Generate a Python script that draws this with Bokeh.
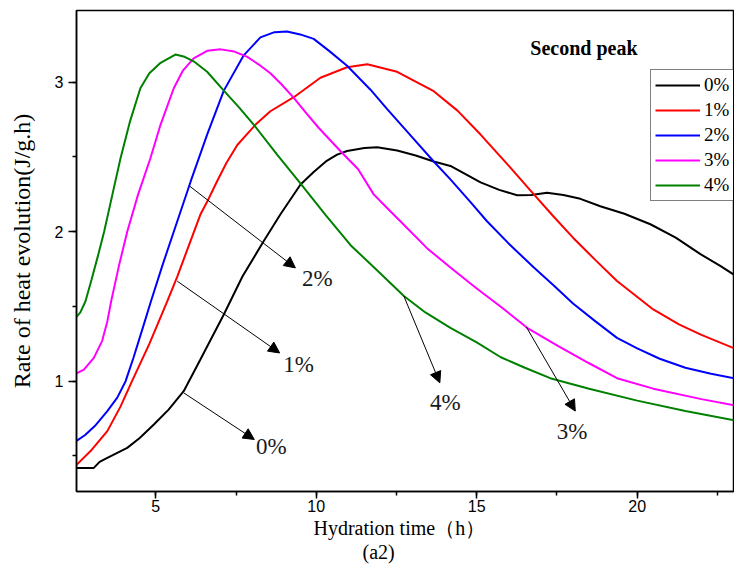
from bokeh.plotting import figure
from bokeh.models import (Range1d, SingleIntervalTicker, Arrow, NormalHead, Label, Title,
                          Legend, LegendItem, ColumnDataSource)
from bokeh.core.properties import value
from bokeh.embed import file_html
from bokeh.resources import INLINE

# ---------------- data ----------------
series_names = ["0%", "1%", "2%", "3%", "4%"]
series_colors = ["#000000", "#ff0000", "#0000ff", "#ff00ff", "#008000"]

x0 = [2.53, 3.07, 3.25, 3.49, 4.11, 4.5, 4.94, 5.4, 5.87, 6.39, 7.12, 7.7, 8.36, 8.88, 9.51,
      9.92, 10.3, 10.65, 10.96, 11.5, 11.9, 12.52, 13.1, 13.66, 14.18, 15.12, 15.7, 16.26,
      16.7, 17.19, 17.7, 18.23, 18.85, 19.6, 20.41, 21.2, 21.97, 22.6, 23.25]
y0 = [0.42, 0.42, 0.46, 0.487, 0.554, 0.62, 0.71, 0.81, 0.933, 1.145, 1.446, 1.70, 1.936,
      2.115, 2.316, 2.40, 2.47, 2.516, 2.54, 2.56, 2.565, 2.543, 2.51, 2.47, 2.44, 2.33,
      2.28, 2.244, 2.245, 2.26, 2.245, 2.22, 2.17, 2.12, 2.05, 1.96, 1.85, 1.77, 1.68]

x1 = [2.53, 3.0, 3.49, 3.9, 4.26, 4.8, 5.36, 5.67, 6.0, 6.39, 6.6, 6.91, 7.2, 7.54, 8.11,
      8.57, 9.3, 10.13, 10.96, 11.59, 12.52, 13.66, 14.4, 15.12, 16.0, 16.78, 17.4, 18.0,
      18.7, 19.37, 20.5, 21.3, 22.0, 23.25]
y1 = [0.44, 0.54, 0.666, 0.83, 1.0, 1.25, 1.535, 1.70, 1.89, 2.115, 2.2, 2.338, 2.46, 2.58,
      2.717, 2.806, 2.9, 3.03, 3.10, 3.12, 3.07, 2.94, 2.81, 2.65, 2.44, 2.25, 2.10, 1.96,
      1.81, 1.67, 1.48, 1.38, 1.31, 1.20]

x2 = [2.53, 2.8, 3.1, 3.49, 3.8, 4.06, 4.31, 4.6, 4.85, 5.2, 5.56, 6.09, 6.6, 7.12, 7.74,
      8.26, 8.7, 9.09, 9.5, 9.92, 10.4, 10.96, 11.69, 12.21, 13.0, 13.66, 14.18, 14.8,
      15.32, 16.0, 16.78, 17.4, 18.0, 18.7, 19.37, 20.0, 20.7, 21.5, 22.3, 23.25]
y2 = [0.6, 0.64, 0.70, 0.8, 0.89, 1.0, 1.16, 1.36, 1.535, 1.77, 2.0, 2.338, 2.65, 2.944,
      3.18, 3.30, 3.335, 3.34, 3.32, 3.29, 3.21, 3.11, 2.95, 2.82, 2.63, 2.47, 2.35, 2.20,
      2.07, 1.92, 1.76, 1.64, 1.52, 1.40, 1.29, 1.22, 1.15, 1.09, 1.05, 1.01]

x3 = [2.53, 2.76, 3.07, 3.33, 3.49, 3.61, 3.85, 4.11, 4.45, 4.83, 5.15, 5.56, 5.85, 6.18,
      6.6, 7.02, 7.45, 7.85, 8.2, 8.57, 8.9, 9.3, 9.7, 10.08, 10.75, 11.3, 11.79, 12.2,
      12.62, 13.45, 14.18, 15.0, 15.74, 16.57, 17.5, 18.5, 19.37, 20.5, 22.0, 23.25]
y3 = [1.053, 1.078, 1.156, 1.27, 1.40, 1.535, 1.77, 2.0, 2.25, 2.49, 2.717, 2.96, 3.08,
      3.16, 3.21, 3.22, 3.205, 3.17, 3.12, 3.06, 2.99, 2.895, 2.79, 2.694, 2.54, 2.42, 2.25,
      2.16, 2.07, 1.89, 1.76, 1.62, 1.50, 1.357, 1.24, 1.12, 1.02, 0.95, 0.88, 0.83]

x4 = [2.53, 2.65, 2.81, 3.0, 3.2, 3.39, 3.65, 3.9, 4.2, 4.52, 4.8, 5.15, 5.61, 5.9, 6.18,
      6.6, 7.12, 7.6, 8.05, 8.78, 9.45, 10.3, 11.07, 12.0, 12.73, 13.4, 14.18, 15.0, 15.75,
      16.5, 17.29, 18.5, 20.0, 21.5, 23.25]
y4 = [1.43, 1.46, 1.535, 1.68, 1.84, 2.0, 2.25, 2.49, 2.74, 2.96, 3.06, 3.13, 3.185, 3.17,
      3.14, 3.07, 2.944, 2.83, 2.717, 2.516, 2.338, 2.11, 1.91, 1.72, 1.57, 1.46, 1.357,
      1.26, 1.16, 1.09, 1.02, 0.95, 0.87, 0.80, 0.73]

xs = [x0, x1, x2, x3, x4]
ys = [y0, y1, y2, y3, y4]

# call-out arrows: (label, x_start, y_start, x_end, y_end, x_text, y_text)
callouts = [
    ("2%", 6.06, 2.304, 9.35, 1.758, 10.03, 1.69),
    ("1%", 5.67, 1.669, 8.86, 1.189, 9.45, 1.112),
    ("0%", 5.87, 0.922, 8.07, 0.61, 8.60, 0.565),
    ("4%", 12.73, 1.569, 13.85, 0.989, 14.02, 0.855),
    ("3%", 16.55, 1.361, 18.07, 0.80, 17.97, 0.666),
]

SERIF = "Liberation Serif"
SANS = "Liberation Sans"

p = figure(width=734, height=564, output_backend="svg", toolbar_location=None,
           x_range=Range1d(2.53, 23.0), y_range=Range1d(0.262, 3.48),
           min_border_left=76, min_border_right=1, min_border_top=10, min_border_bottom=73)
p.grid.visible = False
p.outline_line_color = "black"
p.outline_line_width = 1.5
p.background_fill_color = "white"
p.border_fill_color = "white"

p.xaxis.ticker = SingleIntervalTicker(interval=5, num_minor_ticks=2)
p.yaxis.ticker = SingleIntervalTicker(interval=1, num_minor_ticks=2)
for ax in (p.xaxis, p.yaxis):
    ax.axis_line_color = "black"
    ax.axis_line_width = 1.5
    ax.major_tick_line_color = "black"
    ax.minor_tick_line_color = "black"
    ax.major_tick_line_width = 1.5
    ax.minor_tick_line_width = 1.5
    ax.major_tick_in = 0
    ax.major_tick_out = 8
    ax.minor_tick_in = 0
    ax.minor_tick_out = 4
    ax.major_label_text_font = SANS
    ax.major_label_text_font_size = "16px"
    ax.major_label_text_color = "black"
    ax.major_label_standoff = 5
    ax.axis_label_text_font = SERIF
    ax.axis_label_text_font_style = "normal"
    ax.axis_label_text_color = "black"

p.xaxis.major_tick_out = 7
p.xaxis.major_label_standoff = 1
p.yaxis.axis_label = "Rate of heat evolution(J/g.h)"
p.yaxis.axis_label_text_font_size = "24px"
p.yaxis.axis_label_standoff = 17

# x-axis title and panel tag, stacked under the axis
t1 = Title(text="Hydration time（h）", align="left", offset=237, text_font=SERIF,
           text_font_size="20px", text_font_style="normal", text_color="black", standoff=0)
t2 = Title(text="(a2)", align="left", offset=286, text_font=SERIF,
           text_font_size="20px", text_font_style="normal", text_color="black", standoff=0)
p.add_layout(t1, "below")
p.add_layout(t2, "below")

items = []
for name, col, xx, yy in zip(series_names, series_colors, xs, ys):
    r = p.line(xx, yy, line_color=col, line_width=2)
    items.append(LegendItem(label=name, renderers=[r]))

legend = Legend(items=items, location=(574, 290), label_text_font=SERIF,
                label_text_font_size="19px", label_text_color="black",
                glyph_width=45, glyph_height=20, label_height=20, label_standoff=4,
                padding=4, spacing=3, margin=0, border_line_color="black",
                border_line_width=1, background_fill_alpha=1)
p.add_layout(legend, "center")

for lab, xs_, ys_, xe, ye, xt, yt in callouts:
    p.add_layout(Arrow(end=NormalHead(size=11, fill_color="black", line_color="black"),
                       x_start=xs_, y_start=ys_, x_end=xe, y_end=ye,
                       line_color="black", line_width=1))

src = ColumnDataSource(dict(x=[c[5] for c in callouts], y=[c[6] for c in callouts],
                            t=[c[0] for c in callouts]))
p.text(x="x", y="y", text="t", source=src, text_align="center", text_baseline="middle",
       text_font=value(SERIF), text_font_size="23px", text_color="#1a1a1a")

p.add_layout(Label(x=16.67, y=3.227, text="Second peak", text_font=SERIF,
                   text_font_size="20px", text_font_style="bold", text_color="black",
                   text_baseline="middle", text_align="left"))

open("out.html", "w").write(file_html(p, INLINE))
